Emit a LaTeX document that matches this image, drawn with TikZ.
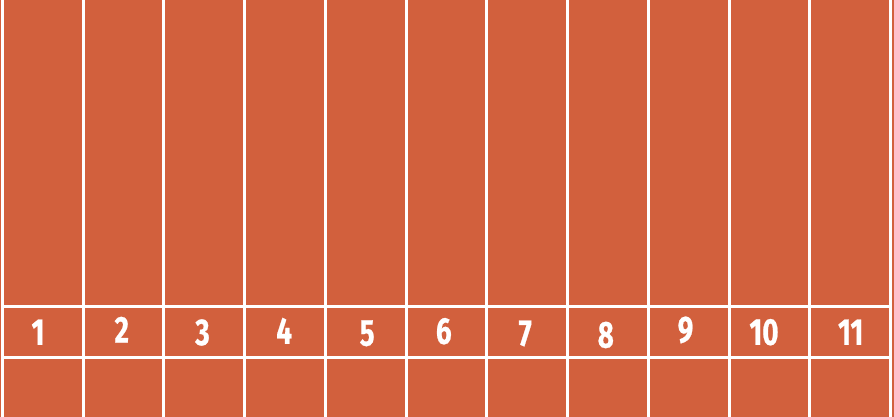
\documentclass[tikz,border=0pt]{standalone}
\usepackage{fontspec}
\newfontfamily\numfont[FakeStretch=0.74,FakeBold=0.6]{Fira Sans}
\definecolor{track}{RGB}{210,96,61}
\begin{document}
\begin{tikzpicture}[x=1pt,y=-1pt,
  lane/.style={draw=white,line width=3pt},
  lanenum/.style={text=white,inner sep=0pt,font=\numfont\bfseries\fontsize{37.5}{37.5}\selectfont}]
\useasboundingbox (0,0) rectangle (894,417);
\fill[track] (0,0) rectangle (894,417);
\foreach \k in {0,...,11}{
  \draw[lane] ({2.5+80.73*\k},0) -- ({2.5+80.73*\k},417);
}
\draw[lane] (2.5,306) -- (891.3,306);
\draw[lane] (2.5,357) -- (891.3,357);
\node[lanenum] (n1) at (38,332.2) {1};
\node[lanenum] (n2) at (121.8,329.7) {2};
\node[lanenum] (n3) at (202.5,332.5) {3};
\node[lanenum] (n4) at (284.2,330.8) {4};
\node[lanenum] (n5) at (367.2,333.3) {5};
\node[lanenum] (n6) at (443.8,331.2) {6};
\node[lanenum] (n7) at (525.2,333.5) {7};
\node[lanenum] (n8) at (605.8,335) {8};
\node[lanenum] (n9) at (685.5,330) {9};
\node[lanenum] (n10) at (764,332.2) {10};
\node[lanenum] (n11) at (850.7,332.2) {11};
\end{tikzpicture}
\end{document}
